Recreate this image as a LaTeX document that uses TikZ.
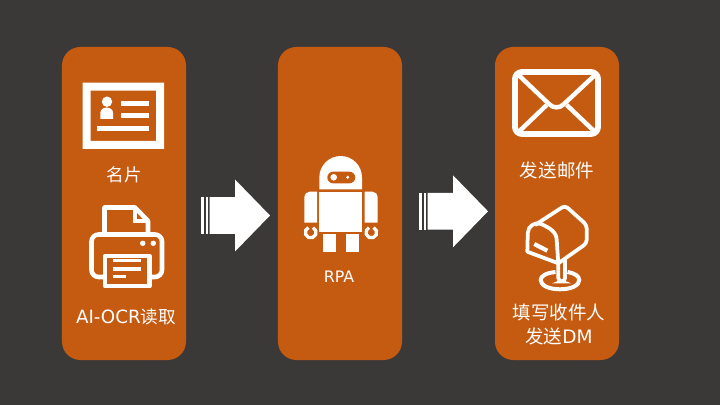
\documentclass[tikz,border=0pt]{standalone}
\usepackage{fontspec}
\setmainfont{Noto Sans CJK SC}
\newfontfamily\latinfont{DejaVu Sans}
\usetikzlibrary{positioning}
\definecolor{slidegray}{RGB}{59, 56, 56}
\definecolor{paneorange}{RGB}{197, 90, 17}
\tikzset{
    pics/blockarrow/.style={code={
        \fill[white] (0,-18.3) rectangle (2.7,18.3);
        \fill[white] (4.7,-18.3) rectangle (6.7,18.3);
        \fill[white] (8.5,-18.3) -- (34,-18.3) -- (34,-36) -- (69,0) -- (34,36) -- (34,18.3) -- (8.5,18.3) -- cycle;
    }}
}
\begin{document}
\begin{tikzpicture}[
        x=0.03cm, y=-0.03cm,
        pane/.style={rectangle, fill=paneorange, rounded corners=0.55cm, minimum width=3.72cm, minimum height=9.39cm, inner sep=0pt},
        label/.style={text=white, align=center, font=\fontsize{15pt}{18pt}\selectfont},
        biglabel/.style={text=white, align=center, font=\fontsize{15.8pt}{21.3pt}\selectfont},
        icon/.style={draw=white, line width=3.9pt, line join=round},
        thinicon/.style={draw=white, line width=2.8pt}
    ]
        \fill[slidegray] (0,0) rectangle (720,405);
        \useasboundingbox (0,0) rectangle (720,405);

        \node[pane] (p1) at (124,203.5) {};
        \node[pane] (p2) at (340,203.5) {};
        \node[pane] (p3) at (557,203.5) {};

        % name card
        \fill[white, even odd rule] (82.5,82.7) rectangle (164,149) (90.7,90.7) rectangle (156,141);
        \fill[white] (107,101.7) circle (5.2);
        \fill[white] (100.3,119) -- (100.3,113) arc[start angle=180, end angle=0, x radius=6.4, y radius=-5.5] -- (113.1,119) -- cycle;
        \fill[white] (120.7,101) rectangle (148.7,106);
        \fill[white] (120.7,113.3) rectangle (148.7,118.3);
        \fill[white] (97.3,126) rectangle (148.7,131);
        \node[label] (t1) at (124,175) {名片};

        % printer
        \draw[icon, rounded corners=6pt] (105,234.5) -- (91.5,234.5) -- (91.5,277) -- (105,277);
        \draw[icon, rounded corners=6pt] (149,234.5) -- (162,234.5) -- (162,277) -- (149,277);
        \draw[icon] (104,234.5) -- (150,234.5);
        \draw[icon] (104.5,234.5) -- (104.5,207.5) -- (135,207.5) -- (148,221) -- (148,234.5);
        \draw[thinicon] (135,207.5) -- (135,221) -- (148,221);
        \draw[icon] (105,256) rectangle (149.5,286);
        \fill[white] (142.7,243.3) circle (2.7);
        \fill[white] (153.3,243.3) circle (2.7);
        \draw[thinicon] (113,260.7) -- (140.7,260.7);
        \draw[thinicon] (113,269) -- (140.7,269);
        \draw[thinicon] (113,276.7) -- (126,276.7);
        \node[label] (t2) at (126,317) {{\latinfont\fontsize{15.6pt}{18pt}\selectfont AI-OCR}读取};

        \pic at (201,215.5) {blockarrow};
        \pic at (419,211.3) {blockarrow};

        % robot
        \fill[white] (319.3,189.3) -- (319.3,177.5) arc[start angle=180, end angle=0, x radius=21.35, y radius=-21.5] -- (362,189.3) -- cycle;
        \fill[paneorange, rounded corners=5pt] (327.3,171.7) rectangle (355.3,183.3);
        \fill[white] (333.7,177.3) circle (3.3);
        \fill[white] (347.7,177.3) circle (1.7);
        \fill[white] (319.3,191.7) rectangle (362,231.7);
        \fill[white] (304.3,222.7) -- (304.3,197) arc[start angle=180, end angle=270, radius=5.3] -- (317,191.7) -- (317,222.7) -- cycle;
        \fill[white] (377.7,222.7) -- (377.7,197) arc[start angle=0, end angle=-90, radius=5.3] -- (364.7,191.7) -- (364.7,222.7) -- cycle;
        \draw[white, line width=2.8pt] (313,227.6) arc[start angle=-65, end angle=245, radius=5.4];
        \draw[white, line width=2.8pt] (373.6,227.6) arc[start angle=-65, end angle=245, radius=5.4];
        \fill[white] (322.7,234) rectangle (335.7,252);
        \fill[white] (346.3,234) rectangle (359.3,252);
        \node[text=white, font=\latinfont\fontsize{13.5pt}{15pt}\selectfont] (t3) at (339,277) {RPA};

        % envelope
        \draw[icon, line width=5pt, rounded corners=6pt] (515,72) rectangle (598,134);
        \draw[icon, line width=3.8pt] (518.5,75) -- (549,104) .. controls (553,108.5) and (560,108.5) .. (564,104) -- (595,75);
        \draw[icon, line width=3.8pt] (518.5,132) -- (546.7,105);
        \draw[icon, line width=3.8pt] (595,132) -- (566.7,105);
        \node[biglabel] (t4) at (557,170) {发送邮件};

        % mailbox
        \draw[white, line width=3.4pt] (555.5,272) .. controls (546,273) and (540.7,276) .. (540.7,280) .. controls (540.7,285.5) and (549,289.3) .. (560,289.3) .. controls (571,289.3) and (579.3,285.5) .. (579.3,280) .. controls (579.3,276) and (574,273) .. (567.5,272);
        \draw[icon, line width=3.2pt] (527.3,251.7) -- (527.8,233) .. controls (528,226) and (535,221.5) .. (541,224) .. controls (550,228) and (556.5,232) .. (556.7,240) -- (558.3,263.3) -- cycle;
        \draw[icon, line width=3.2pt, rounded corners=3pt] (535,225) -- (565,205.5) -- (586.7,225) -- (586.7,243.3) -- (558.3,263.3);
        \draw[white, line width=3.6pt] (534.3,244) -- (547.3,250.7);
        \draw[white, line width=3.2pt, rounded corners=3pt] (558.3,263.3) -- (558.3,281.5) -- (565,281.5) -- (565,259);
        \node[biglabel] (t5) at (559,324.5) {填写收件人\\发送{\latinfont DM}};
    \end{tikzpicture}
\end{document}
